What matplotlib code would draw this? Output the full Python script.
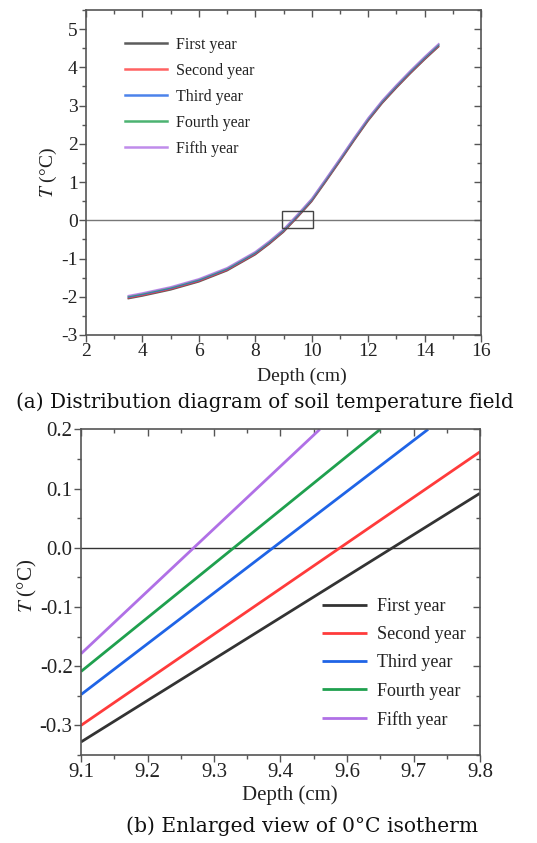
import matplotlib
matplotlib.use("Agg")
import matplotlib.pyplot as plt
from matplotlib.patches import Rectangle
from matplotlib.ticker import MultipleLocator, FixedLocator

plt.rcParams['font.family'] = ['Liberation Serif', 'DejaVu Serif']
plt.rcParams['mathtext.fontset'] = 'stix'
plt.rcParams['axes.unicode_minus'] = False

# ---------------- data ----------------
years = ["First year", "Second year", "Third year", "Fourth year", "Fifth year"]
colors = ["#333333", "#ff3b3b", "#1f64e6", "#1fa04e", "#b070e6"]

depth_a = [3.5, 4, 5, 6, 7, 8, 8.5, 9, 9.5, 10, 10.5, 11, 11.5, 12, 12.5, 13, 13.5, 14, 14.5]
temp_a_y1 = [-2.05, -1.98, -1.82, -1.61, -1.32, -0.90, -0.62, -0.31, 0.08, 0.49, 1.01, 1.54, 2.08, 2.60, 3.06, 3.46, 3.84, 4.20, 4.54]
temp_a_y2 = [-2.03, -1.96, -1.80, -1.59, -1.30, -0.88, -0.60, -0.29, 0.10, 0.51, 1.03, 1.56, 2.10, 2.62, 3.08, 3.48, 3.86, 4.22, 4.56]
temp_a_y3 = [-2.01, -1.94, -1.78, -1.57, -1.28, -0.86, -0.58, -0.27, 0.12, 0.53, 1.05, 1.58, 2.12, 2.64, 3.10, 3.50, 3.88, 4.24, 4.58]
temp_a_y4 = [-1.99, -1.92, -1.76, -1.55, -1.26, -0.84, -0.56, -0.25, 0.14, 0.55, 1.07, 1.60, 2.14, 2.66, 3.12, 3.52, 3.90, 4.26, 4.60]
temp_a_y5 = [-1.97, -1.90, -1.74, -1.53, -1.24, -0.82, -0.54, -0.23, 0.16, 0.57, 1.09, 1.62, 2.16, 2.68, 3.14, 3.54, 3.92, 4.28, 4.62]
temps_a = [temp_a_y1, temp_a_y2, temp_a_y3, temp_a_y4, temp_a_y5]

# enlarged view (b)
depth_b_y1 = [9.1, 9.8]
temp_b_y1 = [-0.328, 0.092]
depth_b_y2 = [9.1, 9.8]
temp_b_y2 = [-0.300, 0.162]
depth_b_y3 = [9.1, 9.709]
temp_b_y3 = [-0.248, 0.200]
depth_b_y4 = [9.1, 9.625]
temp_b_y4 = [-0.209, 0.200]
depth_b_y5 = [9.1, 9.519]
temp_b_y5 = [-0.179, 0.200]
depths_b = [depth_b_y1, depth_b_y2, depth_b_y3, depth_b_y4, depth_b_y5]
temps_b = [temp_b_y1, temp_b_y2, temp_b_y3, temp_b_y4, temp_b_y5]

xticks_b_labels = ["9.1", "9.2", "9.3", "9.4", "9.6", "9.7", "9.8"]

# zoom box drawn on (a)
box_x = [8.95, 10.05]
box_y = [-0.19, 0.23]

# ---------------- figure ----------------
W, H = 537, 843
fig = plt.figure(figsize=(W / 100, H / 100), dpi=100)

spine_c = "#555555"


def style_axes(ax, fs):
    for s in ax.spines.values():
        s.set_color(spine_c)
        s.set_linewidth(1.2)
    ax.tick_params(which='both', direction='out', colors=spine_c, labelcolor='#222222',
                   labelsize=fs, width=1.0)
    ax.tick_params(which='major', length=5)
    ax.tick_params(which='minor', length=3)
    ax.tick_params(axis='x', pad=1)
    ax.tick_params(axis='y', pad=1)


def mirror(ax, xmaj, xmin, ymaj, ymin):
    sx = ax.secondary_xaxis('top')
    sx.xaxis.set_major_locator(xmaj)
    sx.xaxis.set_minor_locator(xmin)
    sx.tick_params(which='both', direction='in', labeltop=False, colors=spine_c, width=1.0)
    sx.tick_params(which='major', length=5)
    sx.tick_params(which='minor', length=3)
    sy = ax.secondary_yaxis('right')
    sy.yaxis.set_major_locator(ymaj)
    sy.yaxis.set_minor_locator(ymin)
    sy.tick_params(which='both', direction='in', labelright=False, colors=spine_c, width=1.0)
    sy.tick_params(which='major', length=5)
    sy.tick_params(which='minor', length=3)
    for s in list(sx.spines.values()) + list(sy.spines.values()):
        s.set_visible(False)


# ---- (a) ----
ax1 = fig.add_axes([86 / W, 1 - 335 / H, (481 - 86) / W, (335 - 10) / H])
for t, c, lab in zip(temps_a, colors, years):
    ax1.plot(depth_a, t, color=c, lw=1.1, alpha=0.8, label=lab)
ax1.axhline(0, color="#777777", lw=1.0, zorder=0)
ax1.add_patch(Rectangle((box_x[0], box_y[0]), box_x[1] - box_x[0], box_y[1] - box_y[0],
                        fill=False, ec="#444444", lw=1.0, zorder=5))
ax1.set_xlim(2, 16)
ax1.set_ylim(-3, 5.5)
ax1.xaxis.set_major_locator(MultipleLocator(2))
ax1.xaxis.set_minor_locator(MultipleLocator(1))
ax1.yaxis.set_major_locator(FixedLocator([-3, -2, -1, 0, 1, 2, 3, 4, 5]))
ax1.yaxis.set_minor_locator(MultipleLocator(0.5))
style_axes(ax1, 14)
mirror(ax1, MultipleLocator(2), MultipleLocator(1),
       FixedLocator([-3, -2, -1, 0, 1, 2, 3, 4, 5]), MultipleLocator(0.5))
ax1.set_xlabel("Depth (cm)", fontsize=14, color="#222222")
ax1.set_ylabel(r"$\mathit{T}$ (°C)", fontsize=14, color="#222222")
ax1.xaxis.set_label_coords(0.547, -0.10)
ax1.yaxis.set_label_coords(-0.068, 0.5)
leg1 = ax1.legend(loc='upper left', bbox_to_anchor=(125 / W, 1 - 37 / H),
                  bbox_transform=fig.transFigure, frameon=False, fontsize=11.5,
                  handlelength=2.6, handletextpad=0.6, labelspacing=0.62,
                  borderpad=0, borderaxespad=0)
for tx in leg1.get_texts():
    tx.set_color("#222222")
for ln in leg1.get_lines():
    ln.set_linewidth(1.8)

# ---- (b) ----
ax2 = fig.add_axes([81 / W, 1 - 755 / H, (480 - 81) / W, (755 - 429.3) / H])
for d, t, c, lab in zip(depths_b, temps_b, colors, years):
    ax2.plot(d, t, color=c, lw=2.0, label=lab, solid_capstyle='butt')
ax2.axhline(0, color="#333333", lw=1.0, zorder=0)
ax2.set_xlim(9.1, 9.8)
ax2.set_ylim(-0.35, 0.2)
xt = [9.1 + i * 0.7 / 6 for i in range(7)]
xm = [9.1 + (i + 0.5) * 0.7 / 6 for i in range(6)]
yt = [-0.3, -0.2, -0.1, 0.0, 0.1, 0.2]
ym = [-0.35, -0.25, -0.15, -0.05, 0.05, 0.15]
ax2.xaxis.set_major_locator(FixedLocator(xt))
ax2.xaxis.set_minor_locator(FixedLocator(xm))
ax2.set_xticklabels(xticks_b_labels)
ax2.yaxis.set_major_locator(FixedLocator(yt))
ax2.yaxis.set_minor_locator(FixedLocator(ym))
ax2.set_yticklabels(["-0.3", "-0.2", "-0.1", "0.0", "0.1", "0.2"])
style_axes(ax2, 15)
mirror(ax2, FixedLocator(xt), FixedLocator(xm), FixedLocator(yt), FixedLocator(ym))
ax2.set_xlabel("Depth (cm)", fontsize=15, color="#222222")
ax2.set_ylabel(r"$\mathit{T}$ (°C)", fontsize=15, color="#222222")
ax2.xaxis.set_label_coords(0.524, -0.092)
ax2.yaxis.set_label_coords(-0.105, 0.52)
leg2 = ax2.legend(loc='upper left', bbox_to_anchor=(322 / W, 1 - 598 / H),
                  bbox_transform=fig.transFigure, frameon=False, fontsize=13,
                  handlelength=2.5, handletextpad=0.55, labelspacing=0.62,
                  borderpad=0, borderaxespad=0)
for tx in leg2.get_texts():
    tx.set_color("#222222")

# ---- captions ----
fig.text(265 / W, 1 - 402 / H, "(a) Distribution diagram of soil temperature field",
         ha='center', va='center', fontsize=14.3, family=['DejaVu Serif'], color="#111111")
fig.text(302 / W, 1 - 826 / H, "(b) Enlarged view of 0°C isotherm",
         ha='center', va='center', fontsize=14.6, family=['DejaVu Serif'], color="#111111")

fig.savefig("out.png", dpi=100)
